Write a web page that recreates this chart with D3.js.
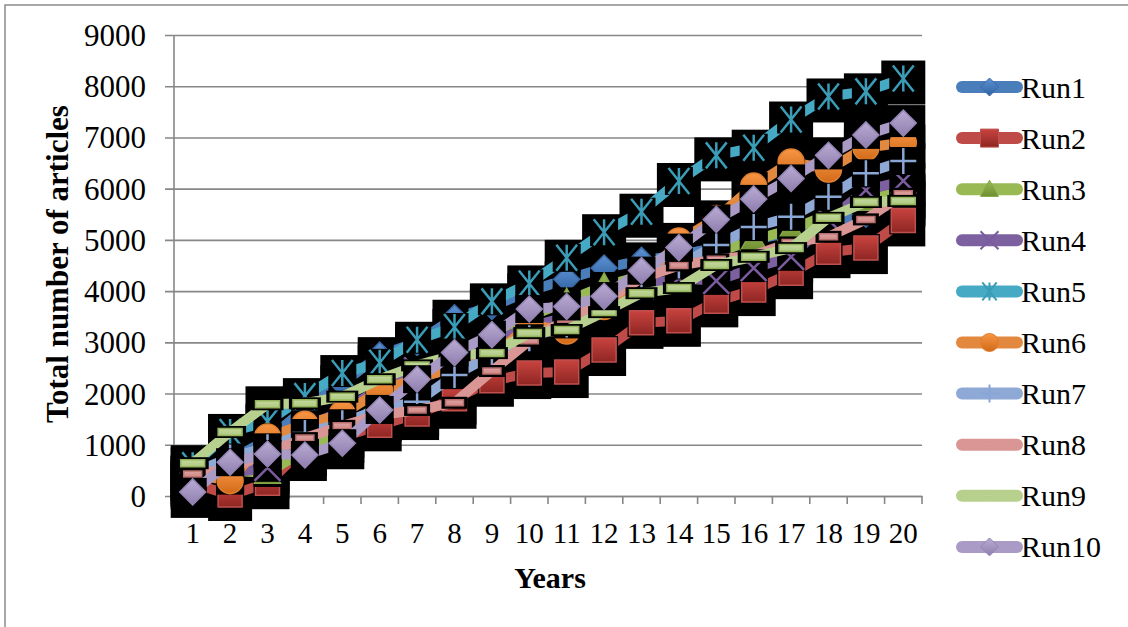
<!DOCTYPE html>
<html>
<head>
<meta charset="utf-8">
<script src="https://cdn.jsdelivr.net/npm/d3@7"></script>
<style>
  body { margin: 0; background: #fff; }
  svg text { font-family: "Liberation Serif", "Times New Roman", serif; fill: #000; }
</style>
</head>
<body>
<div id="chart"></div>
<script>
// ---- data ----
const years = [1, 2, 3, 4, 5, 6, 7, 8, 9, 10, 11, 12, 13, 14, 15, 16, 17, 18, 19, 20];
const runNames = ["Run1", "Run2", "Run3", "Run4", "Run5", "Run6", "Run7", "Run8", "Run9", "Run10"];
const yTicks = [0, 1000, 2000, 3000, 4000, 5000, 6000, 7000, 8000, 9000];

const run1  = [300, 700, 1100, 1700, 2200, 2750, 3000, 3480, 3700, 4000, 4230, 4450, 4600, 4700, 4850, 5000, 5150, 5300, 5500, 5800];
const run2  = [250, 20, 250, 950, 1150, 1380, 1600, 1900, 2250, 2400, 2420, 2850, 3380, 3420, 3800, 4020, 4350, 4760, 4840, 5380];
const run3  = [350, 500, 450, 900, 1250, 1800, 2300, 2700, 3100, 3500, 3800, 4100, 4300, 4500, 4750, 5000, 5200, 5500, 5780, 5950];
const run4  = [300, 450, 550, 1350, 1650, 2100, 2450, 2700, 3000, 3300, 3500, 3900, 4100, 4250, 4200, 4450, 4670, 5390, 5970, 6150];
const run5  = [600, 1250, 1450, 1950, 2400, 2600, 3050, 3300, 3800, 4150, 4650, 5150, 5550, 6150, 6650, 6800, 7350, 7800, 7900, 8150];
const run6  = [420, 300, 1150, 1400, 1600, 2050, 2300, 2500, 2700, 3350, 3220, 3700, 4150, 4980, 5420, 6050, 6520, 6380, 6800, 6900];
const run7  = [450, 750, 950, 1230, 1420, 1700, 1840, 2360, 2750, 3080, 3350, 3800, 4300, 4500, 4900, 5250, 5450, 5840, 6300, 6540];
const run8  = [430, 520, 850, 1130, 1370, 1580, 1680, 1820, 2440, 3030, 3450, 3800, 4250, 4500, 4620, 4700, 4950, 5060, 5400, 5900];
const run9  = [640, 1250, 1790, 1810, 1940, 2280, 2550, 2750, 2790, 3180, 3240, 3590, 3960, 4060, 4510, 4670, 4840, 5430, 5740, 5760];
const run10 = [80, 660, 820, 800, 1030, 1680, 2280, 2800, 3150, 3650, 3700, 3900, 4400, 4850, 5400, 5800, 6200, 6650, 7050, 7280];
const runValues = [run1, run2, run3, run4, run5, run6, run7, run8, run9, run10];

// ---- looks of each run ----
const runStyles = [
  {line: "#4A7EBB", shape: "diamond",  light: "#5E92D2", fill: "#2F62A3", stroke: "#3A6AA8"},
  {line: "#BE4B48", shape: "square",   light: "#C8433F", fill: "#8E2623", stroke: "#C0504D"},
  {line: "#98B954", shape: "triangle", light: "#9BBB59", fill: "#6F8E30", stroke: "#86A646"},
  {line: "#7D60A0", shape: "x",        stroke: "#7A5C9E"},
  {line: "#46AAC5", shape: "asterisk", stroke: "#3A9CB6"},
  {line: "#E3883F", shape: "circle",   light: "#F79646", fill: "#D26A18", stroke: "#E07F2E"},
  {line: "#8EA9D6", shape: "plus",     stroke: "#8AA6D4"},
  {line: "#D99694", shape: "dash",     light: "#DDA3A1", fill: "#D08886", stroke: "#B86F6D", w: 18, h: 6},
  {line: "#B7D08E", shape: "dash",     light: "#C3D99F", fill: "#AFC97F", stroke: "#93B35B", w: 24, h: 7},
  {line: "#A99BC5", shape: "diamond",  light: "#B9ACD3", fill: "#8F7EAF", stroke: "#9484B4"}
];

/*******************************/
/*    Declare the constants    */
/*******************************/
const width = 1128;
const height = 627;
const plot = {left: 174, right: 922, top: 35, bottom: 496};

const svg = d3.select("#chart")
  .append("svg")
    .attr("width", width)
    .attr("height", height);

// outer frame
svg.append("rect")
  .attr("x", 5).attr("y", 5)
  .attr("width", width + 10).attr("height", height + 10)
  .attr("fill", "none")
  .attr("stroke", "#8c8c8c")
  .attr("stroke-width", 1.5);

/****************************/
/*    Declare the scales    */
/****************************/
const xScale = d3.scaleBand()
  .domain(years)
  .range([plot.left, plot.right]);
const bw = xScale.bandwidth();
const cx = d => xScale(d) + bw / 2;

const yScale = d3.scaleLinear()
  .domain([0, 9000])
  .range([plot.bottom, plot.top]);

/****************************/
/*    Grid and axes         */
/****************************/
const leftAxis = d3.axisLeft(yScale)
  .tickValues(yTicks)
  .tickSize(-(plot.right - 165))
  .tickPadding(19)
  .tickFormat(d3.format("d"));

const gy = svg.append("g")
  .attr("transform", "translate(165, 0)")
  .call(leftAxis);
gy.select(".domain").remove();
gy.selectAll(".tick line")
  .attr("stroke", "#878787")
  .attr("stroke-width", 1.6);
gy.selectAll(".tick text")
  .attr("font-family", "Liberation Serif")
  .style("font-size", "31px")
  .attr("dy", "0.34em");

// vertical axis line
svg.append("line")
  .attr("x1", plot.left).attr("x2", plot.left)
  .attr("y1", plot.top).attr("y2", plot.bottom)
  .attr("stroke", "#878787")
  .attr("stroke-width", 1.6);

// x axis labels
const bottomAxis = d3.axisBottom(xScale).tickSize(0).tickPadding(0);
const gx = svg.append("g")
  .attr("transform", `translate(0, ${plot.bottom})`)
  .call(bottomAxis);
gx.select(".domain")
  .attr("stroke", "#878787")
  .attr("stroke-width", 1.6);
gx.selectAll(".tick text")
  .attr("font-family", "Liberation Serif")
  .style("font-size", "29px")
  .attr("y", 47)
  .attr("dy", null);

// x ticks between categories
svg.append("g")
  .selectAll("line")
  .data(years.concat([null]))
  .join("line")
    .attr("x1", d => d === null ? plot.right : xScale(d))
    .attr("x2", d => d === null ? plot.right : xScale(d))
    .attr("y1", plot.bottom)
    .attr("y2", plot.bottom + 8)
    .attr("stroke", "#878787")
    .attr("stroke-width", 1.6);

/****************************/
/*    Gradients             */
/****************************/
const defs = svg.append("defs");
runStyles.forEach((s, i) => {
  if (!s.fill) return;
  const g = defs.append("linearGradient")
    .attr("id", `grad${i}`)
    .attr("x1", 0).attr("y1", 0).attr("x2", 0).attr("y2", 1);
  g.append("stop").attr("offset", "0%").attr("stop-color", s.light);
  g.append("stop").attr("offset", "100%").attr("stop-color", s.fill);
});

const markerPath = (shape, r, st, legendMode) => {
  switch (shape) {
    case "diamond":  return `M0,${-r}L${r},0L0,${r}L${-r},0Z`;
    case "square":   return `M${-r},${-r}h${2 * r}v${2 * r}h${-2 * r}Z`;
    case "triangle": return `M0,${-r}L${r},${r * 0.8}L${-r},${r * 0.8}Z`;
    case "x":        return `M${-r},${-r}L${r},${r}M${r},${-r}L${-r},${r}`;
    case "asterisk": return `M0,${-r}V${r}M${-r * 0.8},${-r}L${r * 0.8},${r}M${r * 0.8},${-r}L${-r * 0.8},${r}`;
    case "plus":     return `M0,${-r}V${r}M${-r},0H${r}`;
    case "circle":   return d3.arc()({innerRadius: 0, outerRadius: r, startAngle: 0, endAngle: 2 * Math.PI});
    case "dash": {
      const w = legendMode ? 8 : st.w, h = legendMode ? 1 : st.h;
      return `M${-w / 2},${-h / 2}h${w}v${h}h${-w}Z`;
    }
  }
};
const isStroked = shape => ["x", "asterisk", "plus"].includes(shape);

const drawMarker = (g, s, i, r, sw, legendMode) => {
  g.append("path")
    .attr("d", markerPath(s.shape, r, s, legendMode))
    .attr("fill", isStroked(s.shape) ? "none" : `url(#grad${i})`)
    .attr("stroke", s.shape === "dash" && legendMode ? "none" : s.stroke)
    .attr("stroke-width", sw);
};

/****************************/
/*    Series                */
/****************************/
const series = runNames.map((name, i) => ({
  name,
  style: runStyles[i],
  points: years.map((yr, j) => ({year: yr, value: runValues[i][j]}))
}));

// dark shadow blocks behind every point
const shadow = svg.append("g");
series.forEach(s => {
  shadow.selectAll(null)
    .data(s.points)
    .join("rect")
      .attr("x", d => cx(d.year) - 22)
      .attr("y", d => yScale(d.value) - 18)
      .attr("width", 44)
      .attr("height", 44)
      .attr("fill", "#000");
});

const lineGenerator = d3.line()
  .x(d => cx(d.year))
  .y(d => yScale(d.value));

// each run: its line, then its boxed markers on top
series.forEach((s, i) => {
  const g = svg.append("g");
  g.append("path")
    .attr("d", lineGenerator(s.points))
    .attr("fill", "none")
    .attr("stroke", s.style.line)
    .attr("stroke-width", 10)
    .attr("stroke-linejoin", "round");

  s.points.forEach(p => {
    const mx = cx(p.year), my = yScale(p.value);
    const box = s.style.shape === "dash" ? [s.style.w + 8, 12] : [28, 28];
    g.append("rect")
      .attr("x", mx - box[0] / 2)
      .attr("y", my - box[1] / 2)
      .attr("width", box[0])
      .attr("height", box[1])
      .attr("fill", "#000");
    const mg = g.append("g").attr("transform", `translate(${mx}, ${my})`);
    drawMarker(mg, s.style, i, s.style.shape === "square" ? 12 : 13, isStroked(s.style.shape) ? 2.5 : 1.5, false);
  });
});

/****************************/
/*    Legend                */
/****************************/
const legend = svg.append("g");
series.forEach((s, i) => {
  const ly = 87 + i * 51.1;
  legend.append("line")
    .attr("x1", 962).attr("x2", 1017)
    .attr("y1", ly).attr("y2", ly)
    .attr("stroke", s.style.line)
    .attr("stroke-width", 12)
    .attr("stroke-linecap", "round");
  const mg = legend.append("g").attr("transform", `translate(989.5, ${ly})`);
  drawMarker(mg, s.style, i, 9, isStroked(s.style.shape) ? 2 : 1, true);
  legend.append("text")
    .text(s.name)
    .attr("x", 1021)
    .attr("y", ly + 10.5)
    .style("font-size", "30px");
});

/****************************/
/*    Axis titles           */
/****************************/
svg.append("text")
  .text("Total number of articles")
  .attr("transform", "translate(68, 264) rotate(-90)")
  .attr("text-anchor", "middle")
  .attr("font-weight", "bold")
  .style("font-size", "31px");

svg.append("text")
  .text("Years")
  .attr("x", 550)
  .attr("y", 588)
  .attr("text-anchor", "middle")
  .attr("font-weight", "bold")
  .style("font-size", "30px");
</script>
</body>
</html>
